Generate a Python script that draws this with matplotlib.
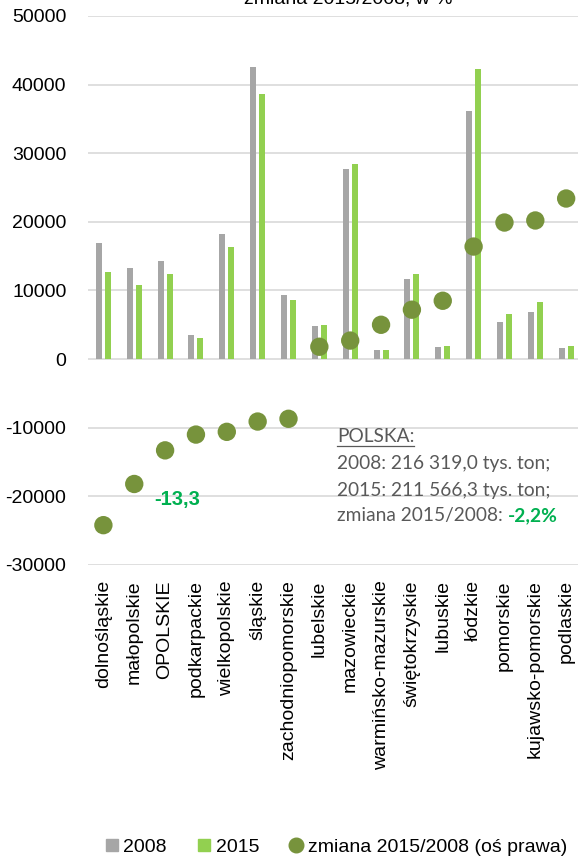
# ==========================================
# Odpady wytworzone wg województw
# 2008 i 2015 (tys. ton) oraz zmiana w %
# ==========================================

import matplotlib
matplotlib.use("Agg")
import matplotlib.pyplot as plt
from matplotlib.lines import Line2D


# ==========================================
# 1. DANE
# ==========================================

wojewodztwa = [
    "dolnośląskie", "małopolskie", "OPOLSKIE", "podkarpackie",
    "wielkopolskie", "śląskie", "zachodniopomorskie", "lubelskie",
    "mazowieckie", "warmińsko-mazurskie", "świętokrzyskie", "lubuskie",
    "łódzkie", "pomorskie", "kujawsko-pomorskie", "podlaskie",
]

wartosci_2008 = [
    16900, 13260, 14230, 3450, 18200, 42600, 9400, 4850,
    27700, 1300, 11600, 1750, 36200, 5450, 6860, 1550,
]

wartosci_2015 = [
    12760, 10770, 12330, 3060, 16270, 38700, 8580, 4940,
    28450, 1370, 12450, 1900, 42300, 6550, 8360, 1910,
]

zmiana_proc = [
    -24.2, -18.2, -13.3, -11.0, -10.6, -9.1, -8.7, 1.8,
    2.7, 5.0, 7.2, 8.5, 16.4, 19.9, 20.2, 23.4,
]

polska_linie = [
    "2008: 216 319,0 tys. ton;",
    "2015: 211 566,3 tys. ton;",
    "zmiana 2015/2008: ",
]
polska_zmiana = "-2,2%"


# ==========================================
# 2. KOLORY I CZCIONKI
# ==========================================

kolor_2008 = "#A6A6A6"
kolor_2015 = "#92D050"
kolor_zmiana = "#77933C"
kolor_etykiety = "#00B050"
kolor_siatki = "#D9D9D9"
kolor_opisu = "#595959"

czcionka = ["Liberation Sans", "DejaVu Sans"]
czcionka_opisu = ["Lato", "DejaVu Sans"]
rozmiar = 14

plt.rcParams["font.family"] = czcionka


# ==========================================
# 3. WYKRES
# ==========================================

fig = plt.figure(figsize=(5.78, 8.59), dpi=100)
ax = fig.add_axes([0.1522, 0.3423, 0.854, 0.6391])

x = list(range(len(wojewodztwa)))
szer = 0.195
przes = 0.146

ax.bar([i - przes for i in x], wartosci_2008, width=szer,
       color=kolor_2008, zorder=2)
ax.bar([i + przes for i in x], wartosci_2015, width=szer,
       color=kolor_2015, zorder=2)

ax.set_xlim(-0.5, len(wojewodztwa) - 0.5)
ax.set_ylim(-30000, 50000)
ax.set_yticks(range(-30000, 50001, 10000))
ax.set_yticklabels([str(v) for v in range(-30000, 50001, 10000)])

ax.set_xticks(x)
ax.set_xticklabels(wojewodztwa, rotation=90, va="top")

ax.tick_params(axis="y", length=0, pad=15.5, labelsize=rozmiar)
ax.tick_params(axis="x", length=0, pad=11, labelsize=rozmiar)

ax.grid(axis="y", color=kolor_siatki, linewidth=1.2, zorder=0)
ax.set_axisbelow(True)

for s in ax.spines.values():
    s.set_visible(False)

# os prawa dla zmiany w %
ax2 = ax.twinx()
ax2.set_ylim(-30, 50)
ax2.scatter(x, zmiana_proc, s=175, color=kolor_zmiana, zorder=3,
            edgecolors="none")
ax2.set_yticks([])
for s in ax2.spines.values():
    s.set_visible(False)

ax2.text(2.38, -20.5, "-13,3", color=kolor_etykiety, fontsize=14.5,
         fontweight="bold", ha="center", va="center")


# ==========================================
# 4. TYTUŁ (ucięty u góry)
# ==========================================

fig.text(348 / 578, 1 - 4 / 859, "zmiana 2015/2008, w %",
         ha="center", va="baseline", fontsize=rozmiar)


# ==========================================
# 5. OPIS POLSKA
# ==========================================

x_opis = 337 / 578
linie_y = [441.5, 469, 495.5, 521.5]

t_naglowek = fig.text(x_opis, 1 - linie_y[0] / 859, "POLSKA:",
                      family=czcionka_opisu, fontsize=13.8,
                      color=kolor_opisu, va="baseline")

t_ostatni = None
for tekst, yy in zip(polska_linie, linie_y[1:]):
    t_ostatni = fig.text(x_opis, 1 - yy / 859, tekst,
                         family=czcionka_opisu, fontsize=13.8,
                         color=kolor_opisu, va="baseline")

fig.canvas.draw()
r = fig.canvas.get_renderer()

# podkreślenie nagłówka
bb = t_naglowek.get_window_extent(r)
y_kreski = (bb.y0 - 1.5) / fig.bbox.height
fig.add_artist(Line2D([bb.x0 / fig.bbox.width, bb.x1 / fig.bbox.width],
                      [y_kreski, y_kreski], color=kolor_opisu,
                      linewidth=0.9))

bb = t_ostatni.get_window_extent(r)
fig.text(bb.x1 / fig.bbox.width, 1 - linie_y[3] / 859, polska_zmiana,
         family=czcionka_opisu, fontsize=13.8, fontweight="bold",
         color=kolor_etykiety, va="baseline")


# ==========================================
# 6. LEGENDA
# ==========================================

uchwyty = [
    Line2D([], [], marker="s", linestyle="none", markersize=8,
           color=kolor_2008, label="2008"),
    Line2D([], [], marker="s", linestyle="none", markersize=8,
           color=kolor_2015, label="2015"),
    Line2D([], [], marker="o", linestyle="none", markersize=10.5,
           color=kolor_zmiana, label="zmiana 2015/2008 (oś prawa)"),
]

fig.legend(handles=uchwyty, loc="center", ncol=3,
           bbox_to_anchor=(336 / 578, 1 - 847 / 859), frameon=False,
           fontsize=rozmiar, handlelength=0.7, handletextpad=0.25,
           columnspacing=1.55, borderaxespad=0)

plt.savefig("out.png", dpi=100)
